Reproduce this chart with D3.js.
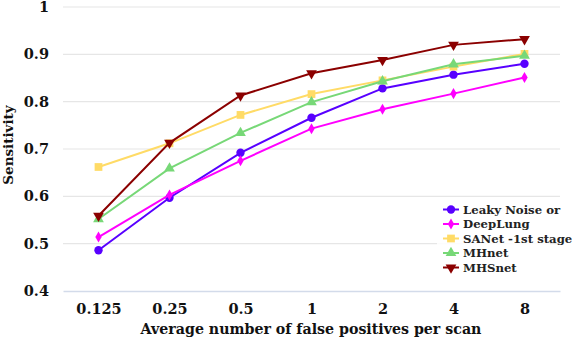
<!DOCTYPE html>
<html>
<head>
<meta charset="utf-8">
<script src="https://cdn.jsdelivr.net/npm/d3@7"></script>
<style>
body { margin: 0; background: #fff; }
text { font-family: "DejaVu Serif", serif; font-weight: bold; }
</style>
</head>
<body>
<script>
let categories = ["0.125", "0.25", "0.5", "1", "2", "4", "8"]
let yTicks = [0.4, 0.5, 0.6, 0.7, 0.8, 0.9, 1]

let leakyNoise = [0.486, 0.597, 0.692, 0.766, 0.828, 0.857, 0.880]
let deepLung = [0.514, 0.603, 0.675, 0.743, 0.784, 0.817, 0.851]
let saNet = [0.662, 0.712, 0.772, 0.816, 0.845, 0.874, 0.901]
let mhNet = [0.552, 0.659, 0.734, 0.799, 0.843, 0.879, 0.897]
let mhsNet = [0.559, 0.713, 0.813, 0.860, 0.888, 0.920, 0.932]

let seriesNames = ["Leaky Noise or", "DeepLung", "SANet -1st stage", "MHnet", "MHSnet"]
let seriesValues = [leakyNoise, deepLung, saNet, mhNet, mhsNet]
let seriesColors = ["#5800ff", "#ff00ff", "#ffdb66", "#77d877", "#8b0000"]
let seriesSymbols = [d3.symbolCircle, d3.symbolDiamond, d3.symbolSquare, d3.symbolTriangle, d3.symbolTriangle]
let symbolSizes = [55, 35, 60, 50, 50]

let w = 572
let h = 338
let padLeft = 63, padRight = 560, padTop = 7, padBottom = 291

let svg = d3.select("body").append("svg")
  .attr("width", w)
  .attr("height", h)

let xScale = d3.scalePoint().domain(categories).range([padLeft, padRight]).padding(0.5)
let yScale = d3.scaleLinear().domain([0.4, 1]).range([padBottom, padTop])

// grid
svg.append("g")
  .selectAll("line")
  .data(yTicks.filter(t => t > 0.4))
  .enter()
  .append("line")
  .attr("x1", padLeft).attr("x2", padRight)
  .attr("y1", d => yScale(d)).attr("y2", d => yScale(d))
  .attr("stroke", "#e6e6e6")
  .attr("stroke-width", 1.2)

let yAxis = d3.axisLeft(yScale).tickValues(yTicks).tickFormat(d => d === 1 ? "1" : d3.format(".1f")(d)).tickSize(0).tickPadding(14)
let yg = svg.append("g").attr("transform", "translate(" + padLeft + ",0)").call(yAxis)
yg.select(".domain").remove()
yg.selectAll("text").attr("font-size", 14.5).attr("fill", "#111")

let xAxis = d3.axisBottom(xScale).tickSize(0).tickPadding(13)
let xg = svg.append("g").attr("transform", "translate(0," + padBottom + ")").call(xAxis)
xg.select(".domain").attr("stroke", "#d3dbea").attr("stroke-width", 1.5)
xg.selectAll("text").attr("font-size", 14.5).attr("fill", "#111")

svg.append("text")
  .text("Average number of false positives per scan")
  .attr("x", 311).attr("y", 334)
  .attr("text-anchor", "middle")
  .attr("font-size", 14.2)
  .attr("fill", "#111")

svg.append("text")
  .text("Sensitivity")
  .attr("transform", "translate(13,145) rotate(-90)")
  .attr("text-anchor", "middle")
  .attr("font-size", 13.5)
  .attr("fill", "#111")

let line = d3.line()
  .x((d, i) => xScale(categories[i]))
  .y(d => yScale(d))

seriesValues.forEach((vals, s) => {
  let g = svg.append("g")
  g.append("path")
    .attr("d", line(vals))
    .attr("fill", "none")
    .attr("stroke", seriesColors[s])
    .attr("stroke-width", 2)
  g.selectAll("path.pt")
    .data(vals)
    .enter()
    .append("path")
    .attr("class", "pt")
    .attr("d", d3.symbol().type(seriesSymbols[s]).size(symbolSizes[s]))
    .attr("transform", (d, i) => "translate(" + xScale(categories[i]) + "," + yScale(d) + ")" + (s === 4 ? " rotate(180)" : ""))
    .attr("fill", seriesColors[s])
})

// legend
svg.append("rect")
  .attr("x", 437).attr("y", 198)
  .attr("width", 113).attr("height", 84)
  .attr("fill", "white").attr("opacity", 0.85)

seriesNames.forEach((name, s) => {
  let y = 209.5 + s * 14.5
  let lg = svg.append("g")
  lg.append("line")
    .attr("x1", 443).attr("x2", 459)
    .attr("y1", y).attr("y2", y)
    .attr("stroke", seriesColors[s]).attr("stroke-width", 2)
  lg.append("path")
    .attr("d", d3.symbol().type(seriesSymbols[s]).size(symbolSizes[s]))
    .attr("transform", "translate(451," + y + ")" + (s === 4 ? " rotate(180)" : ""))
    .attr("fill", seriesColors[s])
  lg.append("text")
    .text(name)
    .attr("x", 463).attr("y", y + 4)
    .attr("font-size", 11.7)
    .attr("fill", "#222")
})
</script>
</body>
</html>
